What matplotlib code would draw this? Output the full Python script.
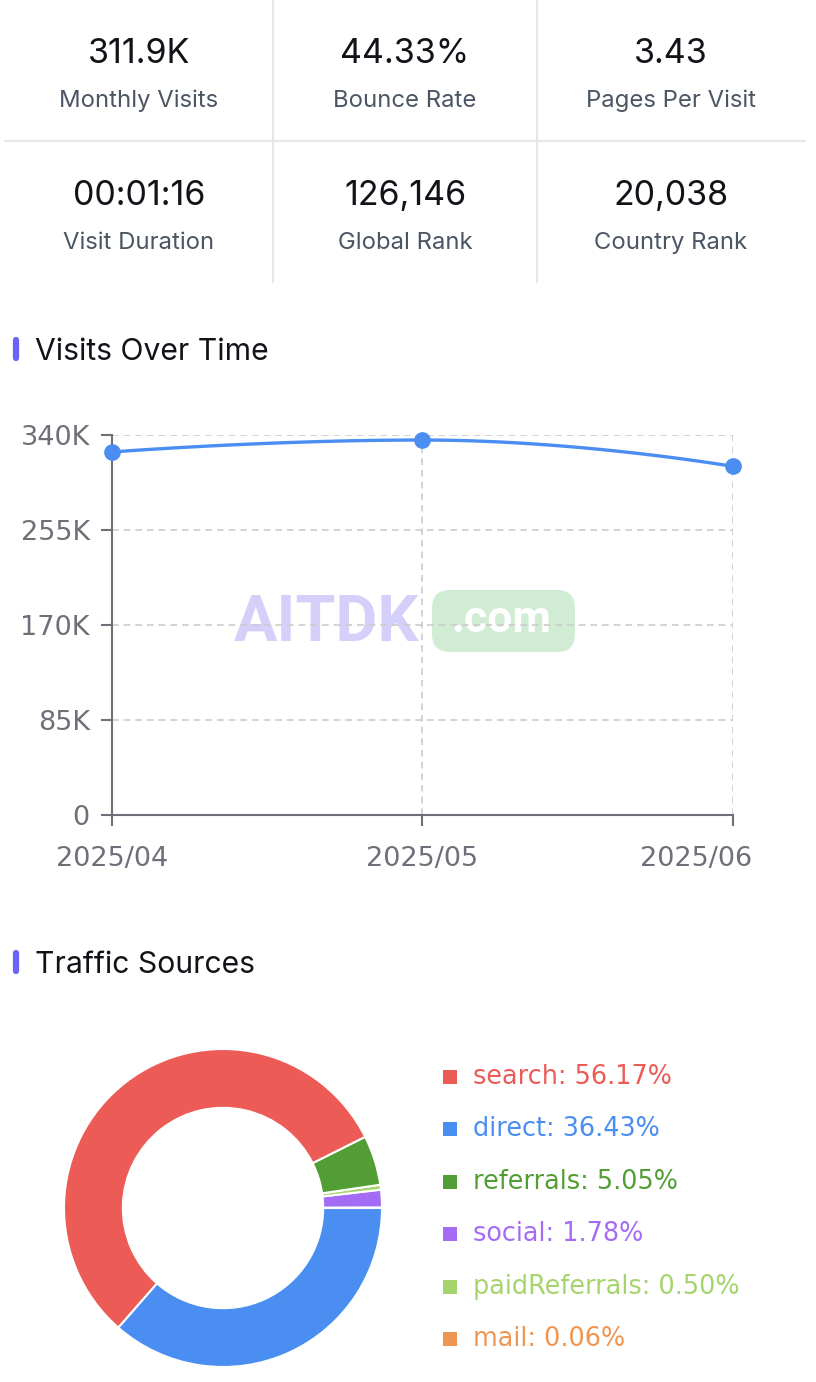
import numpy as np
import matplotlib
matplotlib.use("Agg")
import matplotlib.pyplot as plt
from matplotlib.patches import FancyBboxPatch
from matplotlib.lines import Line2D
from matplotlib.transforms import IdentityTransform, ScaledTranslation

W, H = 816, 1382

# ---- data ----
stat_values = ["311.9K", "44.33%", "3.43", "00:01:16", "126,146", "20,038"]
stat_labels = ["Monthly Visits", "Bounce Rate", "Pages Per Visit",
               "Visit Duration", "Global Rank", "Country Rank"]

months = ["2025/04", "2025/05", "2025/06"]
visits = [324800, 335500, 311900]
y_ticks = [0, 85000, 170000, 255000, 340000]
y_tick_labels = ["0", "85K", "170K", "255K", "340K"]

source_names = ["search", "direct", "referrals", "social", "paidReferrals", "mail"]
source_shares = [56.17, 36.43, 5.05, 1.78, 0.50, 0.06]
source_colors = ["#EC5B56", "#4A8EF1", "#529E35", "#A46BF5", "#A6D46C", "#EF9552"]
# order the wedges appear going counter-clockwise from 3 o'clock
pie_order = ["mail", "social", "paidReferrals", "referrals", "search", "direct"]

TEXT_DARK = "#111318"
TEXT_GREY = "#4B5563"
AXIS_GREY = "#6E7079"
LINE_BLUE = "#4A8EF1"


def fx(x):
    return x / W


def fy(y):
    return 1 - y / H


def smooth_curve(xs, ys, smooth=0.5, n=60):
    """echarts-style smoothed bezier through the points (with its clamping)"""
    pts = np.column_stack([xs, ys]).astype(float)
    cps = []  # (p0, cp0, cp1, p1) per segment
    cp0 = pts[0].copy()
    for i in range(1, len(pts)):
        p = pts[i]
        prev = pts[i - 1]
        if i == len(pts) - 1:
            cp1 = p.copy()
            nxt_cp0 = None
        else:
            nxt = pts[i + 1]
            v = nxt - prev
            len_prev = np.linalg.norm(p - prev)
            len_next = np.linalg.norm(nxt - p)
            ratio = len_next / (len_next + len_prev)
            nxt_cp0 = p + v * smooth * ratio
            nxt_cp0 = np.clip(nxt_cp0, np.minimum(nxt, p), np.maximum(nxt, p))
            v = nxt_cp0 - p
            cp1 = p - v * len_prev / len_next
            cp1 = np.clip(cp1, np.minimum(prev, p), np.maximum(prev, p))
            v = p - cp1
            nxt_cp0 = p + v * len_next / len_prev
        cps.append((prev, cp0, cp1, p))
        cp0 = nxt_cp0
    t = np.linspace(0, 1, n)[:, None]
    segs = []
    for p0, c0, c1, p3 in cps:
        segs.append((1 - t) ** 3 * p0 + 3 * (1 - t) ** 2 * t * c0
                    + 3 * (1 - t) * t ** 2 * c1 + t ** 3 * p3)
    return np.vstack(segs)


fig = plt.figure(figsize=(W / 100, H / 100), dpi=100)
fig.patch.set_facecolor("white")

# ---- stat grid ----
col_centers = [139, 405, 671]
for i, (val, lab) in enumerate(zip(stat_values, stat_labels)):
    r, c = divmod(i, 3)
    fig.text(fx(col_centers[c]), fy(63 + r * 142), val, ha="center", va="baseline",
             fontsize=24.5, color=TEXT_DARK, family=["Inter", "DejaVu Sans"])
    fig.text(fx(col_centers[c]), fy(107 + r * 142), lab, ha="center", va="baseline",
             fontsize=17.2, color=TEXT_GREY, family=["Inter", "DejaVu Sans"])

div_col = "#E5E7EB"
fig.add_artist(Line2D([fx(5), fx(805)], [fy(141), fy(141)], color=div_col, lw=1.5))
for xv in (273, 537):
    fig.add_artist(Line2D([fx(xv), fx(xv)], [fy(0), fy(282)], color=div_col, lw=1.5))


def section_title(y, text):
    fig.add_artist(Line2D([fx(16), fx(16)], [fy(y - 9), fy(y + 9)], color="#6B63F6",
                          lw=4.5, solid_capstyle="round"))
    fig.text(fx(35), fy(y + 3), text, ha="left", va="center", fontsize=21.7,
             color=TEXT_DARK, family=["Inter", "DejaVu Sans"])


section_title(349, "Visits Over Time")
section_title(962, "Traffic Sources")

# ---- watermark ----
fig.text(fx(327), fy(623), "AITDK", ha="center", va="center", fontsize=46.5,
         fontweight="bold", color="#D5D0FA", family=["Roboto", "DejaVu Sans"], zorder=-2)
fig.add_artist(FancyBboxPatch((432, H - 652), 143, 62,
                              boxstyle="round,pad=0,rounding_size=18",
                              transform=IdentityTransform(), facecolor="#D0EDD4",
                              edgecolor="none", zorder=-3))
fig.text(fx(501), fy(620), ".com", ha="center", va="center", fontsize=32,
         fontweight="bold", color="white", family=["Roboto", "DejaVu Sans"], zorder=-2)

# ---- line chart ----
ax = fig.add_axes([fx(112), fy(815), (733 - 112) / W, (815 - 435) / H])
ax.patch.set_alpha(0)
x = np.arange(len(months))
ax.set_xlim(0, len(months) - 1)
ax.set_ylim(0, 340000)

# do the smoothing in pixel space so distances are like on screen
sx, sy = 310.5, 380 / 340000
curve = smooth_curve(x * sx, np.array(visits) * sy)
ax.plot(curve[:, 0] / sx, curve[:, 1] / sy, color=LINE_BLUE, lw=2.4, zorder=4, clip_on=False)
ax.plot(x, visits, "o", color=LINE_BLUE, ms=11, zorder=5, clip_on=False)

ax.set_xticks(x)
ax.set_xticklabels(months)
ax.set_yticks(y_ticks)
ax.set_yticklabels(y_tick_labels)
ax.grid(True, color="#CCCCCC", ls=(0, (4, 3)), lw=1.2)
ax.set_axisbelow(True)
for s in ("top", "right"):
    ax.spines[s].set_visible(False)
for s in ("left", "bottom"):
    ax.spines[s].set_color(AXIS_GREY)
    ax.spines[s].set_linewidth(1.5)
ax.tick_params(axis="both", colors=AXIS_GREY, length=8, width=1.5, labelsize=19.5,
               labelcolor=AXIS_GREY)
ax.tick_params(axis="y", pad=8)
ax.tick_params(axis="x", pad=14)
for lbl in ax.get_xticklabels() + ax.get_yticklabels():
    lbl.set_family("DejaVu Sans")
# last month label is pushed back inside the chart area
last = ax.get_xticklabels()[-1]
last.set_transform(last.get_transform() + ScaledTranslation(-0.37, 0, fig.dpi_scale_trans))

# ---- donut ----
half = 165
pax = fig.add_axes([fx(223 - half), fy(1208 + half), 2 * half / W, 2 * half / H])
color_of = dict(zip(source_names, source_colors))
share_of = dict(zip(source_names, source_shares))
pax.pie([share_of[n] for n in pie_order], colors=[color_of[n] for n in pie_order],
        startangle=0, counterclock=True, radius=1.0,
        wedgeprops=dict(width=0.37, edgecolor="white", linewidth=1.5))
r = half / 159
pax.set_xlim(-r, r)
pax.set_ylim(-r, r)
pax.set_aspect("equal")
pax.axis("off")

# legend
for i, (n, s, c) in enumerate(zip(source_names, source_shares, source_colors)):
    yy = 1077 + i * 52.4
    fig.add_artist(FancyBboxPatch((443, H - yy - 7), 14, 14, boxstyle="square,pad=0",
                                  transform=IdentityTransform(), facecolor=c, edgecolor="none"))
    fig.text(fx(473), fy(yy), f"{n}: {s:.2f}%", ha="left", va="center", fontsize=18.4,
             color=c, family="DejaVu Sans")

fig.savefig("out.png", dpi=100, facecolor="white")
